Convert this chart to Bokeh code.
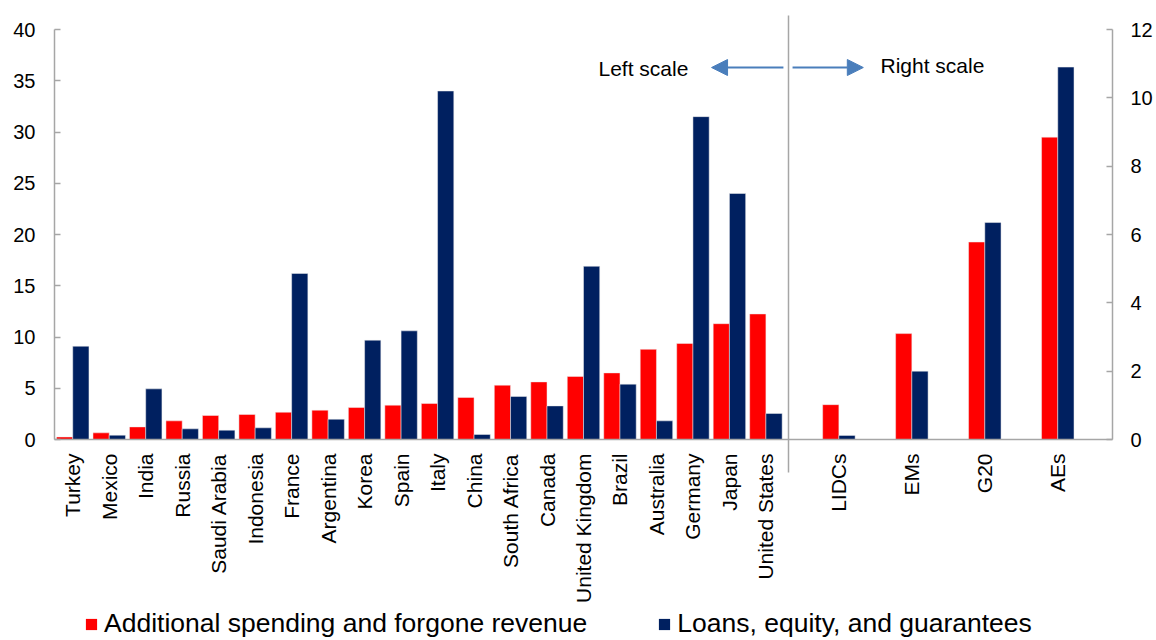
import math
from bokeh.plotting import figure
from bokeh.layouts import column
from bokeh.models import (Range1d, LinearAxis, FixedTicker, Legend, LegendItem,
                          Label, Arrow, NormalHead, ColumnDataSource)
from bokeh.embed import file_html
from bokeh.resources import INLINE

# ---------------- data ----------------
countries = ["Turkey", "Mexico", "India", "Russia", "Saudi Arabia", "Indonesia",
             "France", "Argentina", "Korea", "Spain", "Italy", "China",
             "South Africa", "Canada", "United Kingdom", "Brazil", "Australia",
             "Germany", "Japan", "United States"]
spending_countries = [0.25, 0.65, 1.23, 1.82, 2.34, 2.44, 2.66, 2.86, 3.12, 3.35,
                      3.51, 4.1, 5.3, 5.62, 6.15, 6.5, 8.8, 9.37, 11.3, 12.25]
loans_countries = [9.1, 0.42, 4.94, 1.04, 0.91, 1.14, 16.2, 1.98, 9.69, 10.6,
                   34.0, 0.49, 4.2, 3.28, 16.9, 5.4, 1.82, 31.5, 24.0, 2.54]

groups = ["LIDCs", "EMs", "G20", "AEs"]
spending_groups = [1.02, 3.1, 5.78, 8.85]   # right scale
loans_groups = [0.12, 2.0, 6.35, 10.9]      # right scale

left_ticks = [0, 5, 10, 15, 20, 25, 30, 35, 40]
right_ticks = [0, 2, 4, 6, 8, 10, 12]

series_names = ["Additional spending and forgone revenue",
                "Loans, equity, and guarantees"]

# ---------------- style ----------------
RED = "#FF0000"
NAVY = "#002060"
GRAY = "#A6A6A6"
ARROW_BLUE = "#4A7EBB"
FONT = "Liberation Sans"

cx = list(range(len(countries)))
gx = [len(countries) + 1 + 2 * i for i in range(len(groups))]
BW = 0.445
HALF = BW / 2

src_c = ColumnDataSource(dict(xr=[x - HALF for x in cx], xb=[x + HALF for x in cx],
                              spend=spending_countries, loans=loans_countries))
src_g = ColumnDataSource(dict(xr=[x - HALF for x in gx], xb=[x + HALF for x in gx],
                              spend=spending_groups, loans=loans_groups))

p = figure(frame_width=1058, frame_height=410,
           x_range=Range1d(-0.5, 28.5), y_range=Range1d(0, 40),
           output_backend="svg", toolbar_location=None,
           min_border_left=54, min_border_right=44, min_border_top=29,
           min_border_bottom=166)
p.extra_y_ranges = {"right": Range1d(0, 12)}
p.xgrid.visible = False
p.ygrid.visible = False
p.outline_line_color = None
p.background_fill_color = "white"
p.border_fill_color = "white"

bar_kw = dict(width=BW, bottom=0, line_color="#EEEEEE", line_width=0.5)
r1 = p.vbar(x="xr", top="spend", source=src_c, fill_color=RED, **bar_kw)
r2 = p.vbar(x="xb", top="loans", source=src_c, fill_color=NAVY, **bar_kw)
r3 = p.vbar(x="xr", top="spend", source=src_g, fill_color=RED,
            y_range_name="right", **bar_kw)
r4 = p.vbar(x="xb", top="loans", source=src_g, fill_color=NAVY,
            y_range_name="right", **bar_kw)

# x axis (the single minor tick draws the left/right scale separator)
xa = p.xaxis[0]
xa.ticker = FixedTicker(ticks=cx + gx, minor_ticks=[19.63])
xa.major_label_overrides = {**{x: n for x, n in zip(cx, countries)},
                            **{x: n for x, n in zip(gx, groups)}}
xa.major_label_orientation = math.pi / 2
xa.major_label_text_font = FONT
xa.major_label_text_font_size = "21px"
xa.major_label_text_color = "black"
xa.major_tick_line_color = None
xa.major_tick_out = 0
xa.major_tick_in = 0
xa.minor_tick_line_color = GRAY
xa.minor_tick_line_width = 1.5
xa.minor_tick_in = 424
xa.minor_tick_out = 33
xa.major_label_standoff = -19
xa.axis_line_color = GRAY
xa.axis_line_width = 1.5


def style_y(ax, standoff):
    ax.major_tick_in = 6
    ax.major_tick_out = 0
    ax.minor_tick_line_color = None
    ax.major_tick_line_color = GRAY
    ax.major_tick_line_width = 1.5
    ax.axis_line_color = GRAY
    ax.axis_line_width = 1.5
    ax.major_label_text_font = FONT
    ax.major_label_text_font_size = "20px"
    ax.major_label_text_color = "black"
    ax.major_label_standoff = standoff


ya = p.yaxis[0]
ya.ticker = FixedTicker(ticks=left_ticks, minor_ticks=[])
style_y(ya, 19)

ra = LinearAxis(y_range_name="right", ticker=FixedTicker(ticks=right_ticks, minor_ticks=[]))
style_y(ra, 18)
p.add_layout(ra, "right")

# annotations
p.add_layout(Arrow(end=NormalHead(size=16, fill_color=ARROW_BLUE, line_color=ARROW_BLUE),
                   x_start=19.48, y_start=36.29, x_end=17.51, y_end=36.29,
                   line_color=ARROW_BLUE, line_width=2))
p.add_layout(Arrow(end=NormalHead(size=16, fill_color=ARROW_BLUE, line_color=ARROW_BLUE),
                   x_start=19.73, y_start=36.29, x_end=21.67, y_end=36.29,
                   line_color=ARROW_BLUE, line_width=2))
p.add_layout(Label(x=14.41, y=36.24, text="Left scale", text_font=FONT,
                   text_font_size="21px", text_baseline="middle", text_align="left",
                   text_color="black"))
p.add_layout(Label(x=22.14, y=36.44, text="Right scale", text_font=FONT,
                   text_font_size="21px", text_baseline="middle", text_align="left",
                   text_color="black"))

# legend strip below the chart (its keys use zero-height proxy bars)
lg = figure(width=1156, height=35, x_range=Range1d(0, 1), y_range=Range1d(0, 1),
            output_backend="svg", toolbar_location=None, min_border=0)
lg.axis.visible = False
lg.xgrid.visible = False
lg.ygrid.visible = False
lg.outline_line_color = None
lg.border_fill_color = "white"
lr = lg.vbar(x=[0.5], top=[0], bottom=[0], width=0.0, fill_color=RED, line_color=None)
lb = lg.vbar(x=[0.5], top=[0], bottom=[0], width=0.0, fill_color=NAVY, line_color=None)

legend = Legend(items=[LegendItem(label=series_names[0], renderers=[lr]),
                       LegendItem(label=series_names[1], renderers=[lb])],
                orientation="horizontal", location=(30, 1),
                glyph_width=14, glyph_height=14, label_standoff=6, spacing=70,
                padding=0, margin=0, border_line_color=None,
                background_fill_alpha=0,
                label_text_font=FONT, label_text_font_size="26.5px",
                label_text_color="black")
lg.add_layout(legend, "center")

open("out.html", "w").write(file_html(column(p, lg, spacing=0), INLINE))
